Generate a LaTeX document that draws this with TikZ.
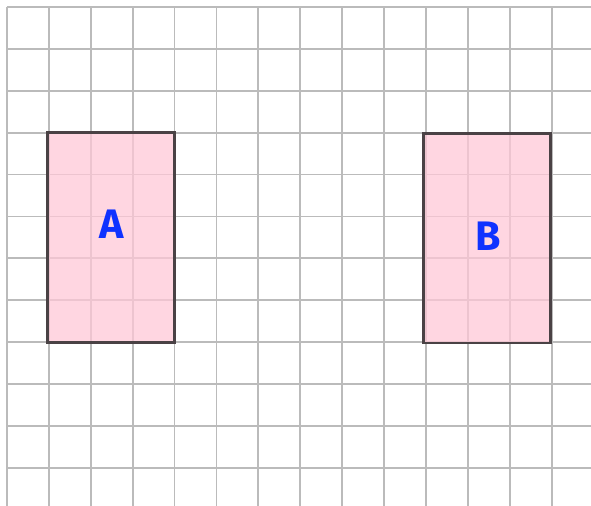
\documentclass[tikz,border=0pt]{standalone}
\usepackage{fontspec}
\newfontfamily\labelfont{Fira Sans}
\usetikzlibrary{positioning}
\definecolor{gridgray}{HTML}{BBBBBB}
\definecolor{shapepink}{HTML}{FFC8D7}
\definecolor{edgegray}{HTML}{4A4245}
\definecolor{letterblue}{HTML}{0F32FF}

\begin{document}
\begin{tikzpicture}[x=1cm, y=1cm,
		gridline/.style={draw=gridgray, line width=1.2pt},
		shapebox/.style={draw=edgegray, line width=1.9pt, fill=shapepink, fill opacity=0.75,
						rectangle, minimum width=3.03cm, minimum height=5cm, inner sep=0pt},
		letter/.style={text=letterblue, font=\labelfont\bfseries\fontsize{28}{28}\selectfont}]
			\useasboundingbox (-0.167,-11.91) rectangle (13.94,0.167);
			\foreach \i in {0,...,13}
				\draw[gridline] (\i,0) -- (\i,-11.91);
			\foreach \j in {0,...,11}
				\draw[gridline] (0,-\j) -- (13.94,-\j);

			\node[shapebox] (A) at (2.48,-5.5) {};
			\node[shapebox] (B) at (11.46,-5.52) {};

			\node[letter] (labelA) at (2.51,-5.18) {A};
			\node[letter] (labelB) at (11.48,-5.47) {B};
		\end{tikzpicture}
\end{document}
